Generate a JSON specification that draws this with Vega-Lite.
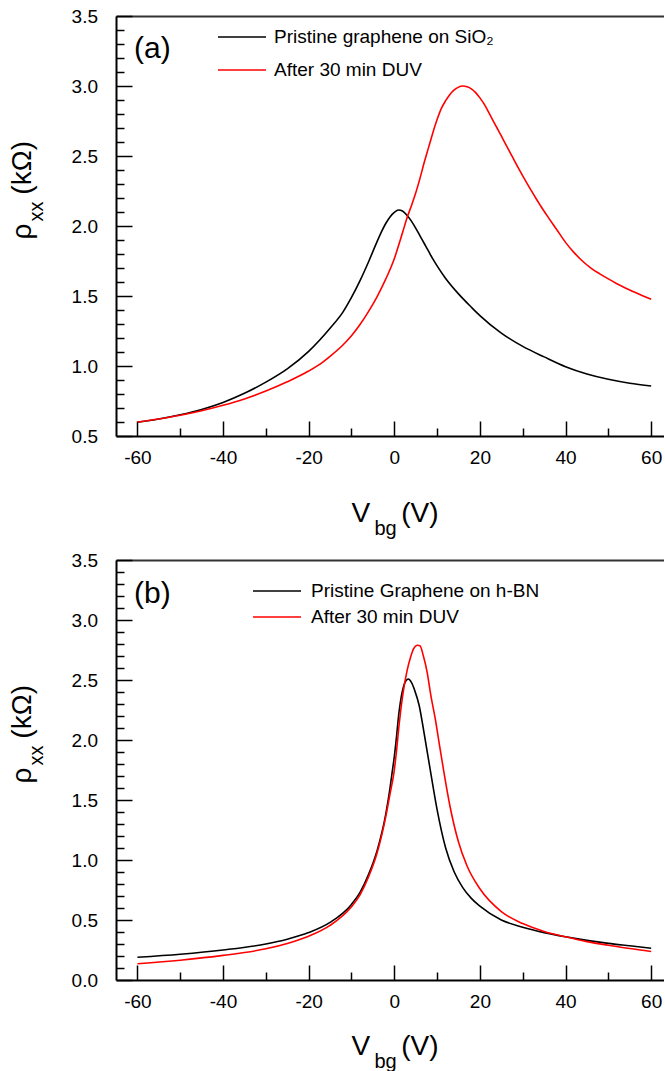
{
  "$schema": "https://vega.github.io/schema/vega-lite/v6.json",
  "padding": {"left": 8, "top": 7, "right": 0, "bottom": 0},
  "background": "white",
  "config": {
    "view": {"stroke": null},
    "font": "Liberation Sans",
    "axis": {"labelFont": "Liberation Sans", "titleFont": "Liberation Sans", "labelColor": "#000", "titleColor": "#000", "tickColor": "#000", "domainColor": "#000", "grid": false, "titleFontWeight": "normal"},
    "legend": {"labelFont": "Liberation Sans"}
  },
  "datasets": {
    "a": [
      {"V": -60, "rho": 0.598, "series": "Pristine graphene on SiO₂"},
      {"V": -55, "rho": 0.622, "series": "Pristine graphene on SiO₂"},
      {"V": -50, "rho": 0.652, "series": "Pristine graphene on SiO₂"},
      {"V": -45, "rho": 0.69, "series": "Pristine graphene on SiO₂"},
      {"V": -40, "rho": 0.74, "series": "Pristine graphene on SiO₂"},
      {"V": -35, "rho": 0.805, "series": "Pristine graphene on SiO₂"},
      {"V": -30, "rho": 0.885, "series": "Pristine graphene on SiO₂"},
      {"V": -25, "rho": 0.98, "series": "Pristine graphene on SiO₂"},
      {"V": -20, "rho": 1.105, "series": "Pristine graphene on SiO₂"},
      {"V": -15, "rho": 1.27, "series": "Pristine graphene on SiO₂"},
      {"V": -12, "rho": 1.385, "series": "Pristine graphene on SiO₂"},
      {"V": -10, "rho": 1.49, "series": "Pristine graphene on SiO₂"},
      {"V": -8, "rho": 1.61, "series": "Pristine graphene on SiO₂"},
      {"V": -6, "rho": 1.745, "series": "Pristine graphene on SiO₂"},
      {"V": -4, "rho": 1.89, "series": "Pristine graphene on SiO₂"},
      {"V": -3, "rho": 1.958, "series": "Pristine graphene on SiO₂"},
      {"V": -2, "rho": 2.018, "series": "Pristine graphene on SiO₂"},
      {"V": -1, "rho": 2.065, "series": "Pristine graphene on SiO₂"},
      {"V": 0, "rho": 2.097, "series": "Pristine graphene on SiO₂"},
      {"V": 1, "rho": 2.114, "series": "Pristine graphene on SiO₂"},
      {"V": 2, "rho": 2.105, "series": "Pristine graphene on SiO₂"},
      {"V": 3, "rho": 2.075, "series": "Pristine graphene on SiO₂"},
      {"V": 4, "rho": 2.035, "series": "Pristine graphene on SiO₂"},
      {"V": 5, "rho": 1.985, "series": "Pristine graphene on SiO₂"},
      {"V": 6, "rho": 1.93, "series": "Pristine graphene on SiO₂"},
      {"V": 7, "rho": 1.875, "series": "Pristine graphene on SiO₂"},
      {"V": 8, "rho": 1.82, "series": "Pristine graphene on SiO₂"},
      {"V": 9, "rho": 1.765, "series": "Pristine graphene on SiO₂"},
      {"V": 10, "rho": 1.715, "series": "Pristine graphene on SiO₂"},
      {"V": 12, "rho": 1.625, "series": "Pristine graphene on SiO₂"},
      {"V": 15, "rho": 1.515, "series": "Pristine graphene on SiO₂"},
      {"V": 18, "rho": 1.42, "series": "Pristine graphene on SiO₂"},
      {"V": 20, "rho": 1.36, "series": "Pristine graphene on SiO₂"},
      {"V": 25, "rho": 1.235, "series": "Pristine graphene on SiO₂"},
      {"V": 30, "rho": 1.14, "series": "Pristine graphene on SiO₂"},
      {"V": 35, "rho": 1.065, "series": "Pristine graphene on SiO₂"},
      {"V": 40, "rho": 0.995, "series": "Pristine graphene on SiO₂"},
      {"V": 45, "rho": 0.943, "series": "Pristine graphene on SiO₂"},
      {"V": 50, "rho": 0.905, "series": "Pristine graphene on SiO₂"},
      {"V": 55, "rho": 0.877, "series": "Pristine graphene on SiO₂"},
      {"V": 60, "rho": 0.857, "series": "Pristine graphene on SiO₂"},
      {"V": -60, "rho": 0.6, "series": "After 30 min DUV"},
      {"V": -55, "rho": 0.622, "series": "After 30 min DUV"},
      {"V": -50, "rho": 0.648, "series": "After 30 min DUV"},
      {"V": -45, "rho": 0.68, "series": "After 30 min DUV"},
      {"V": -40, "rho": 0.719, "series": "After 30 min DUV"},
      {"V": -35, "rho": 0.765, "series": "After 30 min DUV"},
      {"V": -30, "rho": 0.821, "series": "After 30 min DUV"},
      {"V": -25, "rho": 0.887, "series": "After 30 min DUV"},
      {"V": -20, "rho": 0.964, "series": "After 30 min DUV"},
      {"V": -17, "rho": 1.021, "series": "After 30 min DUV"},
      {"V": -15, "rho": 1.069, "series": "After 30 min DUV"},
      {"V": -12, "rho": 1.15, "series": "After 30 min DUV"},
      {"V": -10, "rho": 1.216, "series": "After 30 min DUV"},
      {"V": -8, "rho": 1.296, "series": "After 30 min DUV"},
      {"V": -6, "rho": 1.39, "series": "After 30 min DUV"},
      {"V": -4, "rho": 1.496, "series": "After 30 min DUV"},
      {"V": -2, "rho": 1.62, "series": "After 30 min DUV"},
      {"V": 0, "rho": 1.766, "series": "After 30 min DUV"},
      {"V": 1, "rho": 1.86, "series": "After 30 min DUV"},
      {"V": 2, "rho": 1.96, "series": "After 30 min DUV"},
      {"V": 3, "rho": 2.06, "series": "After 30 min DUV"},
      {"V": 4, "rho": 2.145, "series": "After 30 min DUV"},
      {"V": 5, "rho": 2.235, "series": "After 30 min DUV"},
      {"V": 6, "rho": 2.34, "series": "After 30 min DUV"},
      {"V": 7, "rho": 2.455, "series": "After 30 min DUV"},
      {"V": 8, "rho": 2.56, "series": "After 30 min DUV"},
      {"V": 9, "rho": 2.665, "series": "After 30 min DUV"},
      {"V": 10, "rho": 2.76, "series": "After 30 min DUV"},
      {"V": 11, "rho": 2.84, "series": "After 30 min DUV"},
      {"V": 12, "rho": 2.895, "series": "After 30 min DUV"},
      {"V": 13, "rho": 2.94, "series": "After 30 min DUV"},
      {"V": 14, "rho": 2.972, "series": "After 30 min DUV"},
      {"V": 15, "rho": 2.992, "series": "After 30 min DUV"},
      {"V": 16, "rho": 3.0, "series": "After 30 min DUV"},
      {"V": 17, "rho": 2.995, "series": "After 30 min DUV"},
      {"V": 18, "rho": 2.98, "series": "After 30 min DUV"},
      {"V": 19, "rho": 2.953, "series": "After 30 min DUV"},
      {"V": 20, "rho": 2.915, "series": "After 30 min DUV"},
      {"V": 21, "rho": 2.87, "series": "After 30 min DUV"},
      {"V": 22, "rho": 2.815, "series": "After 30 min DUV"},
      {"V": 23, "rho": 2.757, "series": "After 30 min DUV"},
      {"V": 24, "rho": 2.7, "series": "After 30 min DUV"},
      {"V": 25, "rho": 2.643, "series": "After 30 min DUV"},
      {"V": 26, "rho": 2.585, "series": "After 30 min DUV"},
      {"V": 27, "rho": 2.528, "series": "After 30 min DUV"},
      {"V": 28, "rho": 2.47, "series": "After 30 min DUV"},
      {"V": 29, "rho": 2.413, "series": "After 30 min DUV"},
      {"V": 30, "rho": 2.358, "series": "After 30 min DUV"},
      {"V": 31, "rho": 2.305, "series": "After 30 min DUV"},
      {"V": 32, "rho": 2.253, "series": "After 30 min DUV"},
      {"V": 33, "rho": 2.202, "series": "After 30 min DUV"},
      {"V": 34, "rho": 2.153, "series": "After 30 min DUV"},
      {"V": 35, "rho": 2.105, "series": "After 30 min DUV"},
      {"V": 36, "rho": 2.06, "series": "After 30 min DUV"},
      {"V": 38, "rho": 1.972, "series": "After 30 min DUV"},
      {"V": 40, "rho": 1.883, "series": "After 30 min DUV"},
      {"V": 42, "rho": 1.81, "series": "After 30 min DUV"},
      {"V": 44, "rho": 1.748, "series": "After 30 min DUV"},
      {"V": 46, "rho": 1.698, "series": "After 30 min DUV"},
      {"V": 48, "rho": 1.658, "series": "After 30 min DUV"},
      {"V": 50, "rho": 1.622, "series": "After 30 min DUV"},
      {"V": 52, "rho": 1.588, "series": "After 30 min DUV"},
      {"V": 55, "rho": 1.543, "series": "After 30 min DUV"},
      {"V": 58, "rho": 1.502, "series": "After 30 min DUV"},
      {"V": 60, "rho": 1.476, "series": "After 30 min DUV"}
    ],
    "b": [
      {"V": -60, "rho": 0.19, "series": "Pristine Graphene on h-BN"},
      {"V": -50, "rho": 0.215, "series": "Pristine Graphene on h-BN"},
      {"V": -40, "rho": 0.25, "series": "Pristine Graphene on h-BN"},
      {"V": -30, "rho": 0.3, "series": "Pristine Graphene on h-BN"},
      {"V": -25, "rho": 0.34, "series": "Pristine Graphene on h-BN"},
      {"V": -20, "rho": 0.395, "series": "Pristine Graphene on h-BN"},
      {"V": -15, "rho": 0.48, "series": "Pristine Graphene on h-BN"},
      {"V": -10, "rho": 0.63, "series": "Pristine Graphene on h-BN"},
      {"V": -8, "rho": 0.73, "series": "Pristine Graphene on h-BN"},
      {"V": -6, "rho": 0.88, "series": "Pristine Graphene on h-BN"},
      {"V": -4, "rho": 1.08, "series": "Pristine Graphene on h-BN"},
      {"V": -2, "rho": 1.38, "series": "Pristine Graphene on h-BN"},
      {"V": -1, "rho": 1.6, "series": "Pristine Graphene on h-BN"},
      {"V": -0.5, "rho": 1.73, "series": "Pristine Graphene on h-BN"},
      {"V": 0, "rho": 1.86, "series": "Pristine Graphene on h-BN"},
      {"V": 0.5, "rho": 2.02, "series": "Pristine Graphene on h-BN"},
      {"V": 1, "rho": 2.2, "series": "Pristine Graphene on h-BN"},
      {"V": 1.9, "rho": 2.41, "series": "Pristine Graphene on h-BN"},
      {"V": 2.5, "rho": 2.48, "series": "Pristine Graphene on h-BN"},
      {"V": 3.3, "rho": 2.508, "series": "Pristine Graphene on h-BN"},
      {"V": 4, "rho": 2.48, "series": "Pristine Graphene on h-BN"},
      {"V": 4.8, "rho": 2.41, "series": "Pristine Graphene on h-BN"},
      {"V": 5.8, "rho": 2.29, "series": "Pristine Graphene on h-BN"},
      {"V": 7, "rho": 2.05, "series": "Pristine Graphene on h-BN"},
      {"V": 8.5, "rho": 1.73, "series": "Pristine Graphene on h-BN"},
      {"V": 10, "rho": 1.42, "series": "Pristine Graphene on h-BN"},
      {"V": 12, "rho": 1.1, "series": "Pristine Graphene on h-BN"},
      {"V": 14, "rho": 0.9, "series": "Pristine Graphene on h-BN"},
      {"V": 16, "rho": 0.77, "series": "Pristine Graphene on h-BN"},
      {"V": 18, "rho": 0.68, "series": "Pristine Graphene on h-BN"},
      {"V": 20, "rho": 0.615, "series": "Pristine Graphene on h-BN"},
      {"V": 25, "rho": 0.5, "series": "Pristine Graphene on h-BN"},
      {"V": 30, "rho": 0.44, "series": "Pristine Graphene on h-BN"},
      {"V": 35, "rho": 0.395, "series": "Pristine Graphene on h-BN"},
      {"V": 40, "rho": 0.36, "series": "Pristine Graphene on h-BN"},
      {"V": 45, "rho": 0.33, "series": "Pristine Graphene on h-BN"},
      {"V": 50, "rho": 0.305, "series": "Pristine Graphene on h-BN"},
      {"V": 55, "rho": 0.285, "series": "Pristine Graphene on h-BN"},
      {"V": 60, "rho": 0.265, "series": "Pristine Graphene on h-BN"},
      {"V": -60, "rho": 0.135, "series": "After 30 min DUV"},
      {"V": -50, "rho": 0.165, "series": "After 30 min DUV"},
      {"V": -40, "rho": 0.205, "series": "After 30 min DUV"},
      {"V": -30, "rho": 0.26, "series": "After 30 min DUV"},
      {"V": -25, "rho": 0.305, "series": "After 30 min DUV"},
      {"V": -20, "rho": 0.365, "series": "After 30 min DUV"},
      {"V": -15, "rho": 0.455, "series": "After 30 min DUV"},
      {"V": -10, "rho": 0.61, "series": "After 30 min DUV"},
      {"V": -8, "rho": 0.71, "series": "After 30 min DUV"},
      {"V": -6, "rho": 0.86, "series": "After 30 min DUV"},
      {"V": -4, "rho": 1.06, "series": "After 30 min DUV"},
      {"V": -2, "rho": 1.36, "series": "After 30 min DUV"},
      {"V": -1, "rho": 1.55, "series": "After 30 min DUV"},
      {"V": -0.07, "rho": 1.73, "series": "After 30 min DUV"},
      {"V": 0.5, "rho": 1.9, "series": "After 30 min DUV"},
      {"V": 1.1, "rho": 2.12, "series": "After 30 min DUV"},
      {"V": 2, "rho": 2.38, "series": "After 30 min DUV"},
      {"V": 3, "rho": 2.58, "series": "After 30 min DUV"},
      {"V": 3.8, "rho": 2.69, "series": "After 30 min DUV"},
      {"V": 4.5, "rho": 2.76, "series": "After 30 min DUV"},
      {"V": 5.4, "rho": 2.79, "series": "After 30 min DUV"},
      {"V": 6, "rho": 2.785, "series": "After 30 min DUV"},
      {"V": 6.8, "rho": 2.7, "series": "After 30 min DUV"},
      {"V": 7.7, "rho": 2.56, "series": "After 30 min DUV"},
      {"V": 8.5, "rho": 2.38, "series": "After 30 min DUV"},
      {"V": 9.7, "rho": 2.15, "series": "After 30 min DUV"},
      {"V": 10.5, "rho": 1.97, "series": "After 30 min DUV"},
      {"V": 11.6, "rho": 1.73, "series": "After 30 min DUV"},
      {"V": 13, "rho": 1.45, "series": "After 30 min DUV"},
      {"V": 15, "rho": 1.15, "series": "After 30 min DUV"},
      {"V": 17, "rho": 0.95, "series": "After 30 min DUV"},
      {"V": 20, "rho": 0.76, "series": "After 30 min DUV"},
      {"V": 25, "rho": 0.57, "series": "After 30 min DUV"},
      {"V": 30, "rho": 0.47, "series": "After 30 min DUV"},
      {"V": 35, "rho": 0.405, "series": "After 30 min DUV"},
      {"V": 40, "rho": 0.36, "series": "After 30 min DUV"},
      {"V": 45, "rho": 0.32, "series": "After 30 min DUV"},
      {"V": 50, "rho": 0.29, "series": "After 30 min DUV"},
      {"V": 55, "rho": 0.262, "series": "After 30 min DUV"},
      {"V": 60, "rho": 0.238, "series": "After 30 min DUV"}
    ]
  },
  "bounds": "flush",
  "spacing": 124,
  "resolve": {"scale": {"color": "independent"}},
  "vconcat": [
    {
      "width": 548,
      "height": 420,
      "data": {"name": "a"},
      "resolve": {"axis": {"x": "independent", "y": "independent"}},
      "layer": [
        {
          "mark": {"type": "line", "strokeWidth": 1.6, "interpolate": "monotone", "clip": true},
          "encoding": {
            "x": {"field": "V", "type": "quantitative", "scale": {"domain": [-65, 63], "nice": false, "zero": false},
              "axis": {"orient": "bottom", "values": [-60, -40, -20, 0, 20, 40, 60], "labelExpr": "datum.value < 0 ? '-' + abs(datum.value) : '' + datum.value", "tickSize": -15, "tickWidth": 1.5, "domainWidth": 2, "labelFontSize": 19, "labelPadding": 27, "labelFlush": false, "labelOverlap": false,
                "title": "V\u00a0\u00a0\u00a0\u00a0(V)", "titleFontSize": 28, "titleX": 235, "titleY": 85, "titleAlign": "left", "titleAnchor": "start", "titleBaseline": "alphabetic"}},
            "y": {"field": "rho", "type": "quantitative", "scale": {"domain": [0.5, 3.5], "nice": false, "zero": false},
              "axis": {"orient": "left", "values": [0.5, 1.0, 1.5, 2.0, 2.5, 3.0, 3.5], "format": ".1f", "tickSize": -16, "tickWidth": 1.5, "domainWidth": 2, "labelFontSize": 19, "labelPadding": 34.5, "labelFlush": false, "labelOverlap": false,
                "title": "ρ\u00a0\u00a0\u00a0\u2009(kΩ)", "titleFontSize": 28, "titleAngle": 270, "titleX": -85.5, "titleY": 223, "titleAlign": "left", "titleAnchor": "start", "titleBaseline": "alphabetic"}},
            "color": {"field": "series", "type": "nominal", "sort": null,
              "scale": {"domain": ["Pristine graphene on SiO₂", "After 30 min DUV"], "range": ["#000000", "#ff0000"]},
              "legend": {"orient": "none", "legendX": 113, "legendY": 8, "title": null, "symbolType": "M-2,0H2", "symbolSize": 576, "symbolStrokeWidth": 1.6, "labelFontSize": 19, "labelOffset": 19, "rowPadding": 10, "labelLimit": 500, "labelColor": "#000"}}
          }
        },
        {
          "mark": {"type": "line", "opacity": 0},
          "encoding": {
            "x": {"field": "V", "type": "quantitative", "axis": {"orient": "bottom", "values": [-50, -30, -10, 10, 30, 50], "tickSize": -8, "tickWidth": 1.5, "domain": false, "labels": false,
              "title": "bg", "titleFontSize": 20, "titleX": 258, "titleY": 98, "titleAlign": "left", "titleAnchor": "start", "titleBaseline": "alphabetic"}},
            "y": {"field": "rho", "type": "quantitative", "axis": {"orient": "left", "values": [0.6, 0.7, 0.8, 0.9, 1.1, 1.2, 1.3, 1.4, 1.6, 1.7, 1.8, 1.9, 2.1, 2.2, 2.3, 2.4, 2.6, 2.7, 2.8, 2.9, 3.1, 3.2, 3.3, 3.4], "tickSize": -8, "tickWidth": 1.5, "domain": false, "labels": false,
              "title": "xx", "titleFontSize": 20, "titleAngle": 270, "titleX": -73.5, "titleY": 205, "titleAlign": "left", "titleAnchor": "start", "titleBaseline": "alphabetic"}},
            "detail": {"field": "series"}
          }
        },
        {
          "mark": {"type": "line", "opacity": 0},
          "encoding": {
            "x": {"field": "V", "type": "quantitative", "axis": {"orient": "top", "ticks": false, "labels": false, "domain": true, "domainWidth": 2, "domainColor": "#333333", "title": null}},
            "y": {"field": "rho", "type": "quantitative", "axis": null},
            "detail": {"field": "series"}
          }
        },
        {
          "data": {"values": [{"label": "(a)"}]},
          "mark": {"type": "text", "fontSize": 30, "align": "left", "baseline": "alphabetic", "font": "Liberation Sans", "color": "#000"},
          "encoding": {
            "x": {"datum": -60.8, "type": "quantitative", "axis": null},
            "y": {"datum": 3.2, "type": "quantitative", "axis": null},
            "text": {"field": "label"}
          }
        }
      ]
    },
    {
      "width": 548,
      "height": 420,
      "data": {"name": "b"},
      "resolve": {"axis": {"x": "independent", "y": "independent"}},
      "layer": [
        {
          "mark": {"type": "line", "strokeWidth": 1.6, "interpolate": "monotone", "clip": true},
          "encoding": {
            "x": {"field": "V", "type": "quantitative", "scale": {"domain": [-65, 63], "nice": false, "zero": false},
              "axis": {"orient": "bottom", "values": [-60, -40, -20, 0, 20, 40, 60], "labelExpr": "datum.value < 0 ? '-' + abs(datum.value) : '' + datum.value", "tickSize": -15, "tickWidth": 1.5, "domainWidth": 2, "labelFontSize": 19, "labelPadding": 27, "labelFlush": false, "labelOverlap": false,
                "title": "V\u00a0\u00a0\u00a0\u00a0(V)", "titleFontSize": 28, "titleX": 235, "titleY": 74, "titleAlign": "left", "titleAnchor": "start", "titleBaseline": "alphabetic"}},
            "y": {"field": "rho", "type": "quantitative", "scale": {"domain": [0, 3.5], "nice": false, "zero": false},
              "axis": {"orient": "left", "values": [0, 0.5, 1.0, 1.5, 2.0, 2.5, 3.0, 3.5], "format": ".1f", "tickSize": -16, "tickWidth": 1.5, "domainWidth": 2, "labelFontSize": 19, "labelPadding": 34.5, "labelFlush": false, "labelOverlap": false,
                "title": "ρ\u00a0\u00a0\u00a0\u2009(kΩ)", "titleFontSize": 28, "titleAngle": 270, "titleX": -85.5, "titleY": 223, "titleAlign": "left", "titleAnchor": "start", "titleBaseline": "alphabetic"}},
            "color": {"field": "series", "type": "nominal", "sort": null,
              "scale": {"domain": ["Pristine Graphene on h-BN", "After 30 min DUV"], "range": ["#000000", "#ff0000"]},
              "legend": {"orient": "none", "legendX": 148, "legendY": 18, "title": null, "symbolType": "M-2,0H2", "symbolSize": 576, "symbolStrokeWidth": 1.6, "labelFontSize": 19, "labelOffset": 21, "rowPadding": 3, "labelLimit": 500, "labelColor": "#000"}}
          }
        },
        {
          "mark": {"type": "line", "opacity": 0},
          "encoding": {
            "x": {"field": "V", "type": "quantitative", "axis": {"orient": "bottom", "values": [-50, -30, -10, 10, 30, 50], "tickSize": -8, "tickWidth": 1.5, "domain": false, "labels": false,
              "title": "bg", "titleFontSize": 20, "titleX": 258, "titleY": 87, "titleAlign": "left", "titleAnchor": "start", "titleBaseline": "alphabetic"}},
            "y": {"field": "rho", "type": "quantitative", "axis": {"orient": "left", "values": [0.1, 0.2, 0.3, 0.4, 0.6, 0.7, 0.8, 0.9, 1.1, 1.2, 1.3, 1.4, 1.6, 1.7, 1.8, 1.9, 2.1, 2.2, 2.3, 2.4, 2.6, 2.7, 2.8, 2.9, 3.1, 3.2, 3.3, 3.4], "tickSize": -8, "tickWidth": 1.5, "domain": false, "labels": false,
              "title": "xx", "titleFontSize": 20, "titleAngle": 270, "titleX": -73.5, "titleY": 205, "titleAlign": "left", "titleAnchor": "start", "titleBaseline": "alphabetic"}},
            "detail": {"field": "series"}
          }
        },
        {
          "mark": {"type": "line", "opacity": 0},
          "encoding": {
            "x": {"field": "V", "type": "quantitative", "axis": {"orient": "top", "ticks": false, "labels": false, "domain": true, "domainWidth": 2, "domainColor": "#333333", "title": null}},
            "y": {"field": "rho", "type": "quantitative", "axis": null},
            "detail": {"field": "series"}
          }
        },
        {
          "data": {"values": [{"label": "(b)"}]},
          "mark": {"type": "text", "fontSize": 30, "align": "left", "baseline": "alphabetic", "font": "Liberation Sans", "color": "#000"},
          "encoding": {
            "x": {"datum": -60.8, "type": "quantitative", "axis": null},
            "y": {"datum": 3.14, "type": "quantitative", "axis": null},
            "text": {"field": "label"}
          }
        }
      ]
    }
  ]
}
